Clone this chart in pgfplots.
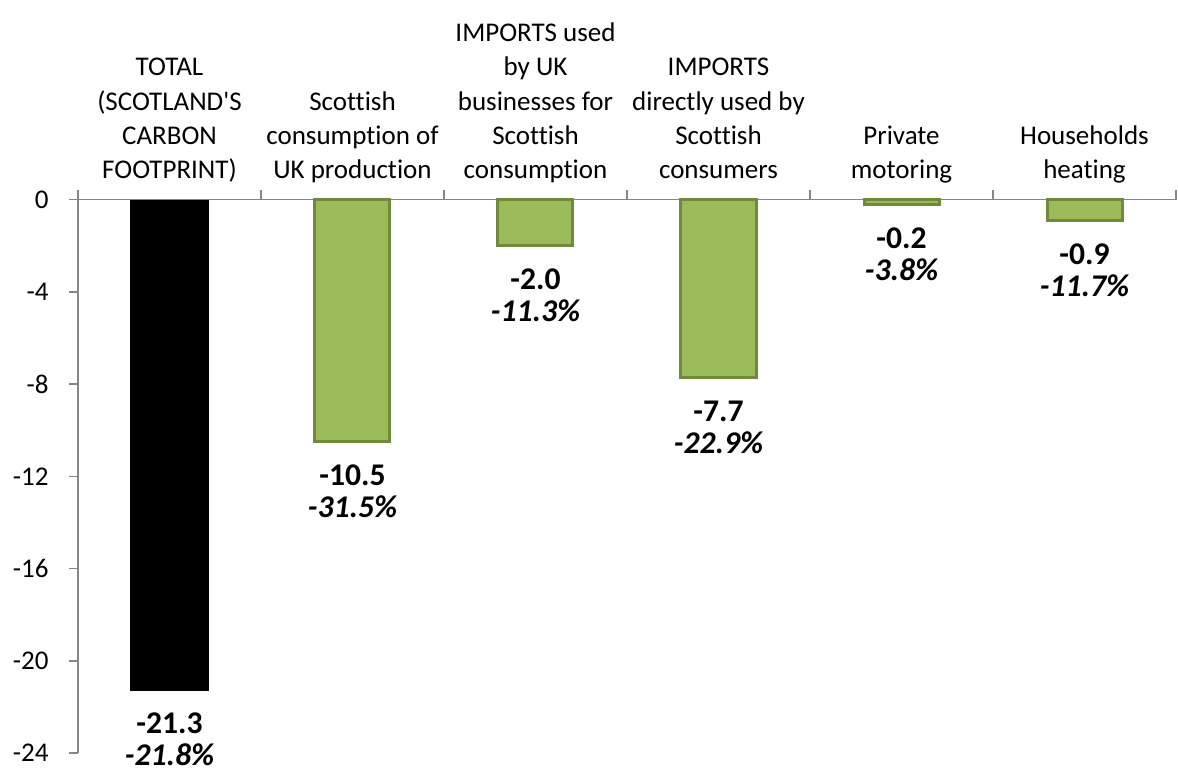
\documentclass[border=0pt]{standalone}
\usepackage{fontspec}
\setmainfont{Carlito}[Ligatures=NoCommon]
\newfontfamily\calfont{Carlito}[Ligatures=NoCommon]
\usepackage{pgfplots}
\pgfplotsset{compat=1.18}
\definecolor{axgray}{HTML}{868686}
\definecolor{barfill}{HTML}{9BBB59}
\definecolor{baredge}{HTML}{71893F}
\begin{document}
\begin{tikzpicture}
\begin{axis}[
  scale only axis, width=549pt, height=276.75pt,
  at={(0,0)}, anchor=south west,
  xmin=-0.5, xmax=5.5, ymin=-24, ymax=0,
  axis x line=top, axis y line=left,
  axis line style={draw=axgray, line width=0.75pt, -},
  xtick={-0.5,0.5,1.5,2.5,3.5,4.5,5.5},
  x tick label as interval,
  xticklabels={
    {TOTAL\\(SCOTLAND'S\\CARBON\\FOOTPRINT)\strut},
    {Scottish\\consumption of\\UK production\strut},
    {IMPORTS used\\by UK\\businesses for\\Scottish\\consumption\strut},
    {IMPORTS\\directly used by\\Scottish\\consumers\strut},
    {Private\\motoring\strut},
    {Households\\heating\strut}},
  xticklabel style={align=center, font=\calfont\fontsize{13.5}{17.15}\selectfont, anchor=south, inner sep=0pt, yshift=0.6pt, text=black},
  ytick={-24,-20,...,0},
  yticklabel style={font=\calfont\fontsize{13.5}{16}\selectfont, anchor=east, inner sep=0pt, xshift=-14.5pt, text=black},
  /pgf/number format/assume math mode=true,
  tick align=inside,
  major tick length=4.5pt,
  tick style={draw=axgray, line width=0.75pt},
  ytick style={xshift=-4.5pt},
  clip=false,
  ybar,
  point meta=explicit symbolic,
  nodes near coords,
  every node near coord/.append style={anchor=north, align=center, inner sep=0pt,
    font=\calfont\fontsize{15.8}{16}\selectfont, yshift=-11pt, text=black},
]
\addplot[fill=black, draw=none, bar width=39.5pt, bar shift=0pt]
  coordinates {(0,-21.3) [{\textbf{-21.3}\\\textbf{\textit{-21.8\%}}}]};
\addplot[fill=barfill, draw=baredge, line width=1.5pt, bar width=37.5pt, bar shift=0pt]
  coordinates {
    (1,-10.5) [{\textbf{-10.5}\\\textbf{\textit{-31.5\%}}}]
    (2,-2.0)  [{\textbf{-2.0}\\\textbf{\textit{-11.3\%}}}]
    (3,-7.7)  [{\textbf{-7.7}\\\textbf{\textit{-22.9\%}}}]
    (4,-0.2)  [{\textbf{-0.2}\\\textbf{\textit{-3.8\%}}}]
    (5,-0.9)  [{\textbf{-0.9}\\\textbf{\textit{-11.7\%}}}]
  };
\end{axis}
\pgfresetboundingbox
\path (-39pt,-10pt) rectangle (550pt,376.5pt);
\end{tikzpicture}
\end{document}
